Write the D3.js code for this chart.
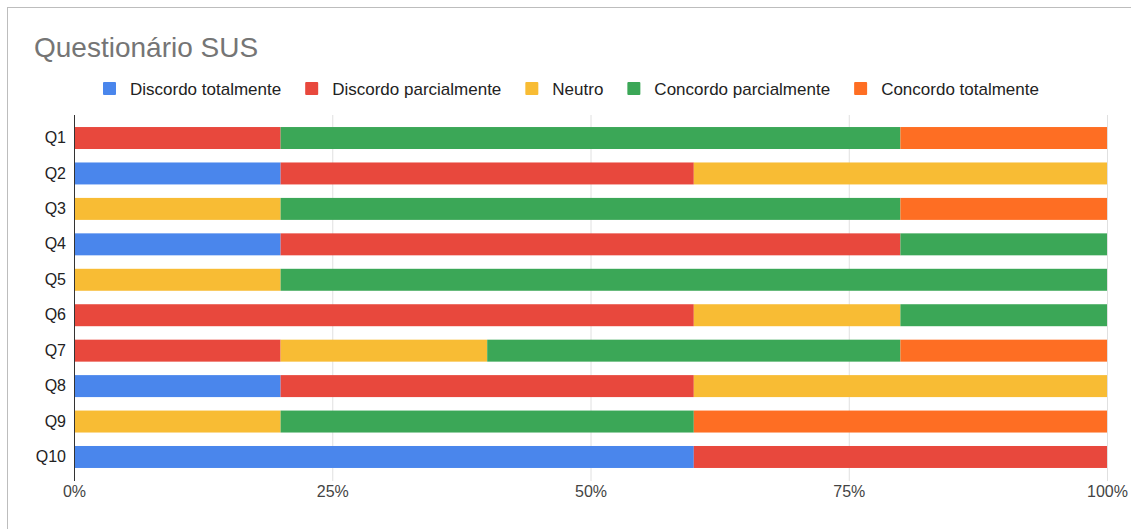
<!DOCTYPE html>
<html><head><meta charset="utf-8">
<script src="https://cdn.jsdelivr.net/npm/d3@7"></script>
<style>body{margin:0;background:#fff;}svg{display:block;font-family:"Liberation Sans",Arial,sans-serif;}</style>
</head><body>
<script>
const categories = ["Q1","Q2","Q3","Q4","Q5","Q6","Q7","Q8","Q9","Q10"];
const seriesNames = ["Discordo totalmente","Discordo parcialmente","Neutro","Concordo parcialmente","Concordo totalmente"];
const colors = ["#4A86EC","#E8483D","#F8BC34","#3BA757","#FE6E23"];
const discordoTotalmente   = [0,20,0,20,0,0,0,20,0,60];
const discordoParcialmente = [20,40,0,60,0,60,20,40,0,40];
const neutro               = [0,40,20,0,20,20,20,40,20,0];
const concordoParcialmente = [60,0,60,20,80,20,40,0,40,0];
const concordoTotalmente   = [20,0,20,0,0,0,20,0,40,0];
const tickValues = [0,25,50,75,100];
const tickLabels = ["0%","25%","50%","75%","100%"];

const series = [discordoTotalmente,discordoParcialmente,neutro,concordoParcialmente,concordoTotalmente];
const W=1131,H=529;
const svg=d3.select("body").append("svg").attr("width",W).attr("height",H);
svg.append("rect").attr("x",7.5).attr("y",7.5).attr("width",W).attr("height",H).attr("fill","#fff").attr("stroke","#bdbdbd");

svg.append("text").attr("x",34).attr("y",57).attr("font-size",28).attr("fill","#757575").text("Questionário SUS");

const x=d3.scaleLinear().domain([0,100]).range([74,1107]);
const y=d3.scaleBand().domain(categories).range([120.3,474.7]).paddingInner(0.38).paddingOuter(0.19);

// gridlines
svg.append("g").selectAll("line").data(tickValues.slice(1)).join("line")
 .attr("x1",d=>x(d)+0.5).attr("x2",d=>x(d)+0.5).attr("y1",115).attr("y2",481)
 .attr("stroke","#e0e0e0");

const data=categories.map((c,i)=>{const o={cat:c};seriesNames.forEach((s,j)=>o[s]=series[j][i]);return o;});
const stack=d3.stack().keys(seriesNames)(data);
svg.append("g").selectAll("g").data(stack).join("g").attr("fill",(d,i)=>colors[i])
 .selectAll("rect").data(d=>d).join("rect")
 .attr("x",d=>x(d[0])).attr("width",d=>x(d[1])-x(d[0]))
 .attr("y",d=>y(d.data.cat)).attr("height",y.bandwidth());

// baseline
svg.append("line").attr("x1",x(0)+0.5).attr("x2",x(0)+0.5).attr("y1",115).attr("y2",481).attr("stroke","#333");

// y axis labels
const ya=svg.append("g").attr("transform",`translate(${x(0)-8},0)`)
 .call(d3.axisLeft(y).tickSize(0).tickPadding(0));
ya.select(".domain").remove();
ya.selectAll("text").attr("font-size",16).attr("fill","#222").attr("font-family","Liberation Sans, Arial, sans-serif");

// x axis labels
const xa=svg.append("g").attr("transform",`translate(0,486)`)
 .call(d3.axisBottom(x).tickValues(tickValues).tickFormat((d,i)=>tickLabels[i]).tickSize(0).tickPadding(0));
xa.select(".domain").remove();
xa.selectAll("text").attr("font-size",16).attr("fill","#444").attr("dy","0.71em").attr("font-family","Liberation Sans, Arial, sans-serif");

// legend
const lg=svg.append("g");
let lx=103;
seriesNames.forEach((s,i)=>{
  lg.append("rect").attr("x",lx).attr("y",82).attr("width",13).attr("height",13).attr("rx",1).attr("fill",colors[i]);
  const t=lg.append("text").attr("x",lx+27).attr("y",94.5).attr("font-size",17).attr("fill","#222").text(s);
  lx+=27+t.node().getComputedTextLength()+24;
});
</script>
</body></html>
